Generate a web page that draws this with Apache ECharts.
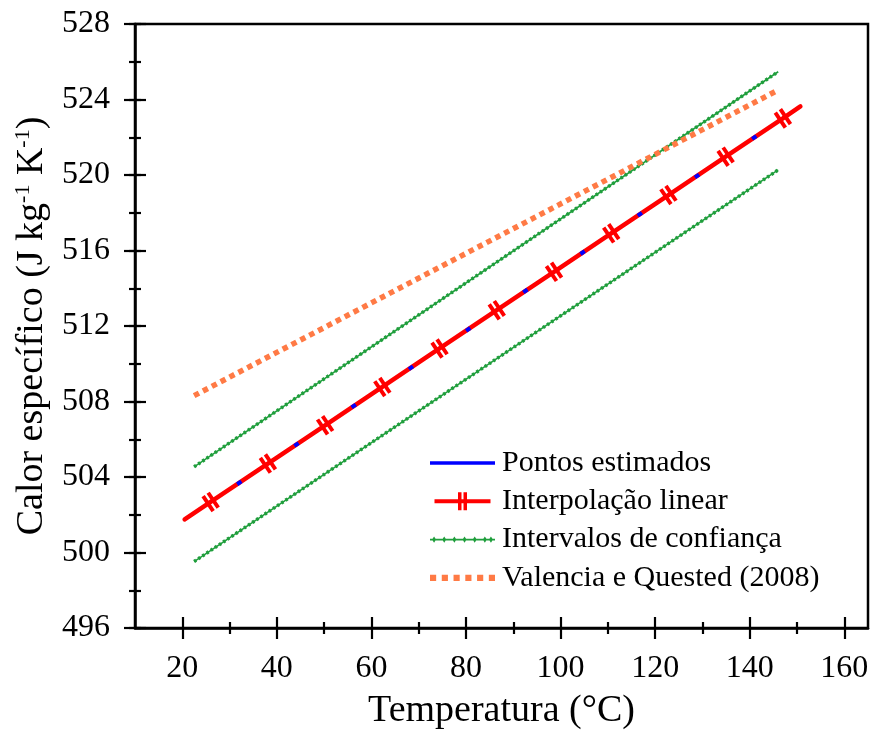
<!DOCTYPE html>
<html><head><meta charset="utf-8">
<script src="https://cdn.jsdelivr.net/npm/echarts@6/dist/echarts.min.js"></script>
<style>html,body{margin:0;padding:0;background:#fff}#c{width:872px;height:735px}</style>
</head><body><div id="c"></div>
<script>
// ---- data ----
const xMajorTicks = [20, 40, 60, 80, 100, 120, 140, 160];
const xMinorTicks = [30, 50, 70, 90, 110, 130, 150];
const interpX = [20.5, 26, 38.1, 50.2, 62.3, 74.4, 86.5, 98.6, 110.7, 122.8, 134.9, 147, 150.7];
const interpY = [501.75, 502.68, 504.71, 506.74, 508.77, 510.81, 512.84, 514.87, 516.91, 518.94, 520.97, 523.00, 523.63];
const estX = [32.05, 44.15, 56.25, 68.35, 80.45, 92.55, 104.65, 116.75, 128.85, 140.95];
const estY = [503.69, 505.72, 507.76, 509.79, 511.82, 513.86, 515.89, 517.92, 519.95, 521.99];
const confX = [22.5, 146];
const confUpperY = [504.54, 525.47];
const confLowerY = [499.52, 520.27];
const valX = [22.5, 146];
const valY = [508.31, 524.5];
const seriesNames = ['Pontos estimados', 'Interpolação linear', 'Intervalos de confiança', 'Valencia e Quested (2008)'];

const FONT = "'Liberation Serif','Times New Roman',serif";
const pairs = (xs, ys) => xs.map((x, i) => [x, ys[i]]);
const interpData = interpX.map((x, i) => (i === 0 || i === interpX.length - 1) ? { value: [x, interpY[i]], symbol: 'none' } : [x, interpY[i]]);

const chart = echarts.init(document.getElementById('c'));
const baseX = { type: 'value', min: 10, max: 165, gridIndex: 0, position: 'bottom', splitLine: { show: false } };
const baseY = { type: 'value', min: 496, max: 528, gridIndex: 0, position: 'left', splitLine: { show: false } };
const tickStyle = { color: '#000', width: 2.2 };
chart.setOption({
  animation: false,
  backgroundColor: '#fff',
  grid: { left: 135, right: 4, top: 24, bottom: 107, show: true, borderColor: '#000', borderWidth: 2.5, backgroundColor: 'transparent' },
  xAxis: [
    Object.assign({}, baseX, {
      axisLine: { show: true, onZero: false, lineStyle: { color: '#000', width: 2.5 } },
      axisTick: { show: false },
      axisLabel: { show: true, customValues: xMajorTicks, fontSize: 32, fontFamily: FONT, color: '#000', margin: 25 },
      name: 'Temperatura (°C)', nameLocation: 'middle', nameGap: 64,
      nameTextStyle: { fontSize: 38, fontFamily: FONT, color: '#000' }
    }),
    Object.assign({}, baseX, { offset: -11, axisLine: { show: false }, axisLabel: { show: false },
      axisTick: { show: true, customValues: xMajorTicks, length: 22, lineStyle: tickStyle } }),
    Object.assign({}, baseX, { offset: -6, axisLine: { show: false }, axisLabel: { show: false },
      axisTick: { show: true, customValues: xMinorTicks, length: 12, lineStyle: tickStyle } })
  ],
  yAxis: [
    Object.assign({}, baseY, { interval: 4,
      axisLine: { show: true, onZero: false, lineStyle: { color: '#000', width: 2.5 } },
      axisTick: { show: false },
      axisLabel: { show: true, fontSize: 32, fontFamily: FONT, color: '#000', margin: 25 },
      name: '{a|Calor específico (J kg}{s|-1}{a| K}{s|-1}{a|)}', nameLocation: 'middle', nameGap: 82,
      nameTextStyle: { color: '#000', rich: {
        a: { fontSize: 38, fontFamily: FONT, color: '#000', lineHeight: 40 },
        s: { fontSize: 22, fontFamily: FONT, color: '#000', verticalAlign: 'top', lineHeight: 22 } } }
    }),
    Object.assign({}, baseY, { interval: 4, offset: -11, axisLine: { show: false }, axisLabel: { show: false },
      axisTick: { show: true, length: 22, lineStyle: tickStyle } }),
    Object.assign({}, baseY, { interval: 2, offset: -6, axisLine: { show: false }, axisLabel: { show: false },
      axisTick: { show: true, length: 12, lineStyle: tickStyle } })
  ],
  legend: {
    orient: 'vertical', left: 425, top: 443, itemWidth: 65, itemHeight: 18, itemGap: 8.3,
    selectedMode: false, itemStyle: { borderWidth: 0 },
    textStyle: { fontSize: 30, fontFamily: FONT, color: '#000', lineHeight: 30, padding: [0, 0, 0, 2] },
    data: [
      { name: seriesNames[0], icon: 'path://M0,0L65,0L65,3.5L0,3.5Z' },
      { name: seriesNames[1], icon: 'path://M0,7L56,7L56,11L0,11Z M23.5,0L27,0L27,18L23.5,18Z M29,0L32.5,0L32.5,18L29,18Z' },
      { name: seriesNames[2], icon: 'path://M0,8.2L64,8.2L64,9.8L0,9.8Z M2,9L4,6L6,9L4,12Z M12,9L14,6L16,9L14,12Z M22,9L24,6L26,9L24,12Z M32,9L34,6L36,9L34,12Z M42,9L44,6L46,9L44,12Z M52,9L54,6L56,9L54,12Z M58,9L60,6L62,9L60,12Z' },
      { name: seriesNames[3], icon: 'path://M0,0h5.5v5.5h-5.5Z M10.5,0h5.5v5.5h-5.5Z M21,0h5.5v5.5h-5.5Z M31.5,0h5.5v5.5h-5.5Z M42,0h5.5v5.5h-5.5Z M52.5,0h5.5v5.5h-5.5Z' }
    ]
  },
  series: [
    { name: seriesNames[2], type: 'line', data: pairs(confX, confUpperY), symbol: 'none', z: 2,
      itemStyle: { color: '#1f9e3c' }, lineStyle: { color: '#1f9e3c', width: 3.5, type: [2.5, 2.5] } },
    { type: 'line', data: pairs(confX, confUpperY), symbol: 'none', z: 1,
      itemStyle: { color: '#1f9e3c' }, lineStyle: { color: '#1f9e3c', width: 1.6 } },
    { name: seriesNames[2], type: 'line', data: pairs(confX, confLowerY), symbol: 'none', z: 2,
      itemStyle: { color: '#1f9e3c' }, lineStyle: { color: '#1f9e3c', width: 3.5, type: [2.5, 2.5] } },
    { type: 'line', data: pairs(confX, confLowerY), symbol: 'none', z: 1,
      itemStyle: { color: '#1f9e3c' }, lineStyle: { color: '#1f9e3c', width: 1.6 } },
    { name: seriesNames[3], type: 'line', data: pairs(valX, valY), symbol: 'none', z: 2,
      itemStyle: { color: '#ff7a45' }, lineStyle: { color: '#ff7a45', width: 5.5, type: [5.5, 4.5], cap: 'butt' } },
    { name: seriesNames[1], type: 'line', data: interpData, z: 3,
      symbol: 'path://M0,0L3.5,0L3.5,18L0,18Z M5.5,0L9,0L9,18L5.5,18Z', symbolSize: [10, 18], symbolRotate: 34,
      itemStyle: { color: '#ff0000' }, lineStyle: { color: '#ff0000', width: 4.5, cap: 'round' } },
    { name: seriesNames[0], type: 'line', data: pairs(estX, estY), z: 4,
      symbol: 'rect', symbolSize: [5, 4], symbolRotate: 34,
      itemStyle: { color: '#0000ff' }, lineStyle: { color: '#0000ff', width: 0, opacity: 0 } }
  ]
});
</script>
</body></html>
